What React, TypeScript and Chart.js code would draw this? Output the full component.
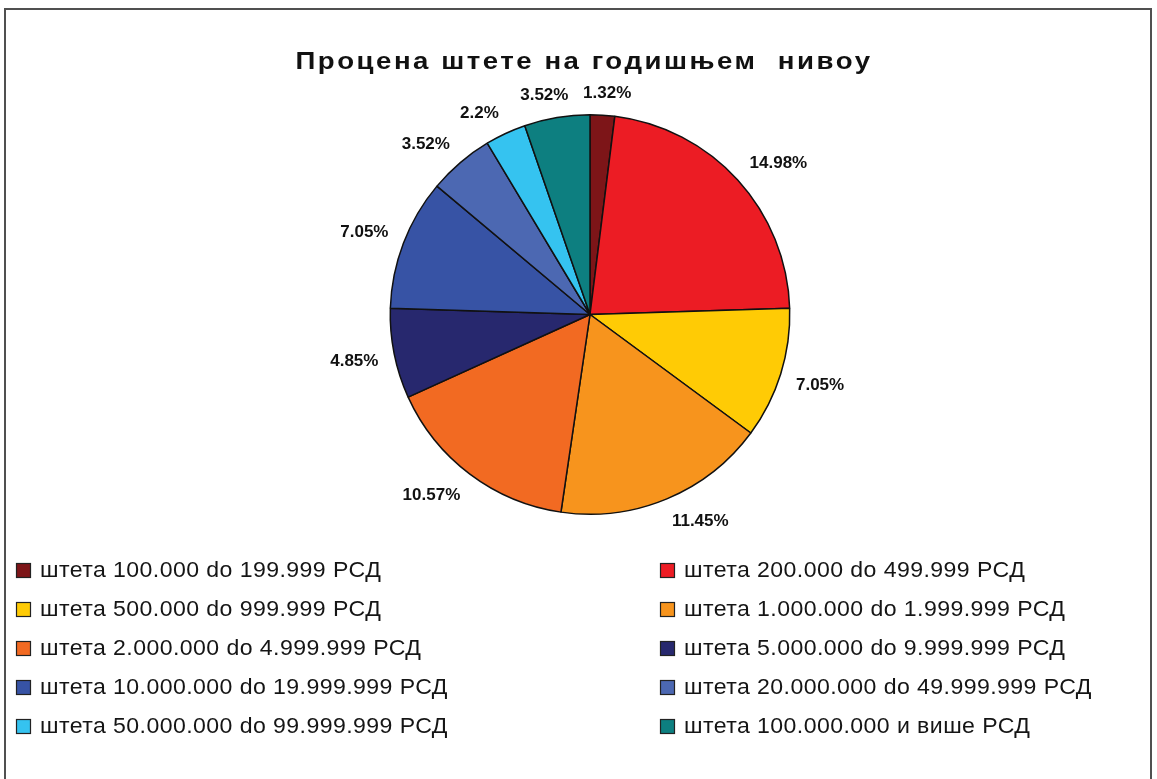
import React, { useEffect, useRef } from "react";
import { Chart, registerables } from "chart.js";

Chart.register(...registerables);

const TITLE = "Процена штете на годишњем  нивоу";

const categories = [
  "штета 100.000 do 199.999 РСД",
  "штета 200.000 do 499.999 РСД",
  "штета 500.000 do 999.999 РСД",
  "штета 1.000.000 do 1.999.999 РСД",
  "штета 2.000.000 do 4.999.999 РСД",
  "штета 5.000.000 do 9.999.999 РСД",
  "штета 10.000.000 do 19.999.999 РСД",
  "штета 20.000.000 do 49.999.999 РСД",
  "штета 50.000.000 do 99.999.999 РСД",
  "штета 100.000.000 и више РСД",
];

const values = [1.32, 14.98, 7.05, 11.45, 10.57, 4.85, 7.05, 3.52, 2.2, 3.52];

const colors = [
  "#7D1518",
  "#EC1C24",
  "#FFCB05",
  "#F7941D",
  "#F26A22",
  "#27286E",
  "#3753A5",
  "#4C68B2",
  "#35C3F0",
  "#0D7F80",
];

const FONT = '"Liberation Sans", Arial, Helvetica, sans-serif';

const customPlugin = {
  id: "customDraw",
  beforeDraw(chart: any) {
    const ctx = chart.ctx;
    const W = chart.width;
    const H = chart.height;
    ctx.save();
    ctx.fillStyle = "#ffffff";
    ctx.fillRect(0, 0, W, H);
    // frame (top, left, right)
    ctx.strokeStyle = "#505050";
    ctx.lineWidth = 2;
    ctx.beginPath();
    ctx.moveTo(5, H + 2);
    ctx.lineTo(5, 9);
    ctx.lineTo(1151, 9);
    ctx.lineTo(1151, H + 2);
    ctx.stroke();
    // title
    ctx.fillStyle = "#111111";
    ctx.font = `bold 24px ${FONT}`;
    (ctx as any).letterSpacing = "2.2px";
    ctx.textAlign = "left";
    ctx.textBaseline = "alphabetic";
    const sx = 1.15;
    const tw = ctx.measureText(TITLE).width * sx;
    ctx.translate(584 - tw / 2, 68.5);
    ctx.scale(sx, 1);
    ctx.fillText(TITLE, 0, 0);
    (ctx as any).letterSpacing = "0px";
    ctx.restore();
  },
  afterDraw(chart: any) {
    const ctx = chart.ctx;
    const meta = chart.getDatasetMeta(0);
    const data = chart.data.datasets[0].data as number[];
    const labels = chart.data.labels as string[];
    const bg = chart.data.datasets[0].backgroundColor as string[];
    ctx.save();
    // data labels outside the pie
    ctx.font = `bold 17px ${FONT}`;
    ctx.fillStyle = "#111111";
    ctx.textAlign = "center";
    ctx.textBaseline = "middle";
    const gap = 16;
    const h = 14;
    const soft = (u: number) => Math.sign(u) * Math.min(1, Math.abs(u) * 2.5);
    meta.data.forEach((arc: any, i: number) => {
      const p = arc.getProps(["x", "y", "startAngle", "endAngle", "outerRadius"], true);
      const mid = (p.startAngle + p.endAngle) / 2;
      const ux = Math.cos(mid);
      const uy = Math.sin(mid);
      const txt = `${data[i]}%`;
      const w = ctx.measureText(txt).width;
      const ax = p.x + (p.outerRadius + gap) * ux;
      const ay = p.y + (p.outerRadius + gap) * uy;
      const cx = ax + (w / 2) * soft(ux);
      const cy = ay + (h / 2) * soft(uy);
      ctx.fillText(txt, cx, cy + 1);
    });
    // legend in two columns
    const colX = [16, 660];
    const rowY0 = 570;
    const rowStep = 39;
    const lsx = 1.05;
    labels.forEach((lab, i) => {
      const col = i % 2;
      const row = Math.floor(i / 2);
      const x = colX[col];
      const y = rowY0 + row * rowStep;
      ctx.fillStyle = bg[i];
      ctx.fillRect(x, y - 7, 15, 15);
      ctx.strokeStyle = "#222222";
      ctx.lineWidth = 1.2;
      ctx.strokeRect(x + 0.5, y - 6.5, 14, 14);
      ctx.save();
      ctx.font = `22px ${FONT}`;
      (ctx as any).letterSpacing = "0.4px";
      ctx.textAlign = "left";
      ctx.textBaseline = "middle";
      ctx.fillStyle = "#151515";
      ctx.translate(x + 24, y + 1);
      ctx.scale(lsx, 1);
      ctx.fillText(lab, 0, 0);
      (ctx as any).letterSpacing = "0px";
      ctx.restore();
    });
    ctx.restore();
  },
};

export default function App() {
  const canvasRef = useRef<HTMLCanvasElement | null>(null);

  useEffect(() => {
    const canvas = canvasRef.current;
    if (!canvas) return;
    const chart = new Chart(canvas, {
      type: "pie",
      data: {
        labels: categories,
        datasets: [
          {
            data: values,
            backgroundColor: colors,
            borderColor: "#111111",
            borderWidth: 1.5,
          },
        ],
      },
      options: {
        responsive: false,
        animation: false,
        layout: {
          padding: { top: 114, bottom: 264, left: 300, right: 277 },
        },
        plugins: {
          legend: { display: false },
          title: { display: false },
          tooltip: { enabled: false },
        },
      },
      plugins: [customPlugin],
    });
    return () => chart.destroy();
  }, []);

  return (
    <div style={{ position: "fixed", left: 0, top: 0, width: 1157, height: 779, background: "#fff" }}>
      <canvas ref={canvasRef} width={1157} height={779} style={{ display: "block" }} />
    </div>
  );
}
